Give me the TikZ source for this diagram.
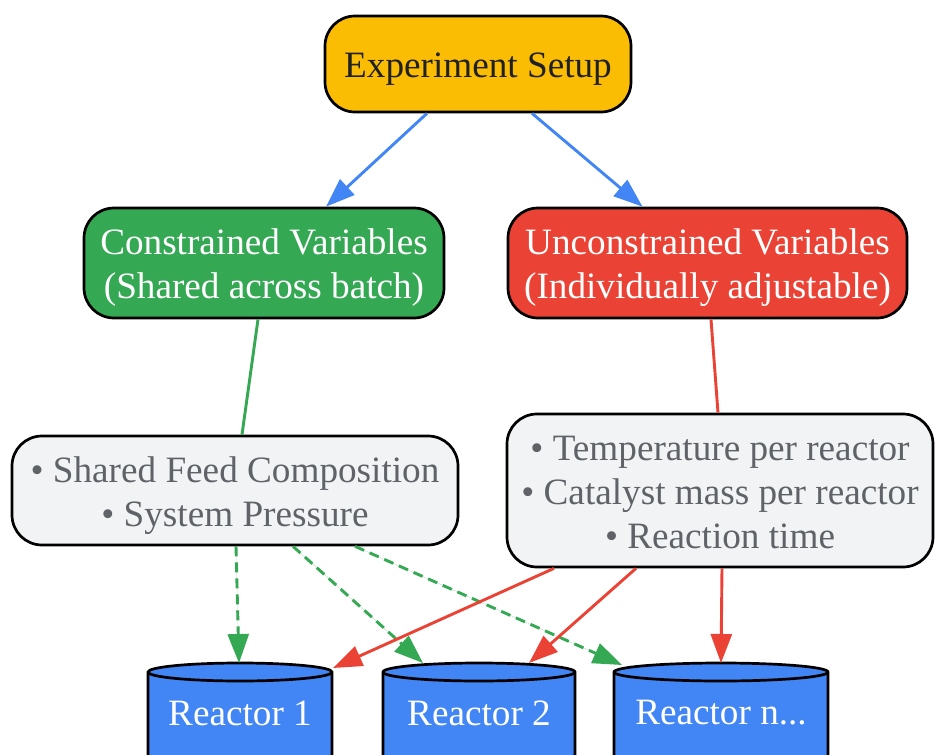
\documentclass[tikz,border=0pt]{standalone}
\usepackage{fontspec}
\setmainfont{Liberation Serif}
\usetikzlibrary{arrows.meta}
\definecolor{gyellow}{HTML}{FBBC04}
\definecolor{ggreen}{HTML}{34A853}
\definecolor{gred}{HTML}{EA4335}
\definecolor{gblue}{HTML}{4285F4}
\definecolor{ggray}{HTML}{F1F3F4}
\definecolor{gtext}{HTML}{5F6368}
\definecolor{gdark}{HTML}{202124}
\begin{document}
\begin{tikzpicture}[x=1pt,y=-1pt,
  box/.style={draw=black, line width=2.7pt, rounded corners=30pt, inner sep=0pt},
  txt/.style={align=center, font=\fontsize{37.2}{44}\selectfont, inner sep=0pt},
  rtext/.style={text=white, font=\fontsize{37.2}{44}\selectfont, inner sep=0pt},
  cyl/.style={fill=gblue, draw=black, line width=2.7pt},
  tip/.style={-{Triangle[length=29pt,width=21pt]}},
  bluee/.style={tip, draw=gblue, fill=gblue, line width=2.9pt},
  greene/.style={draw=ggreen, line width=2.9pt},
  grdash/.style={tip, draw=ggreen, fill=ggreen, line width=2.9pt, dash pattern=on 10pt off 6pt},
  rede/.style={draw=gred, line width=2.9pt},
  redarr/.style={tip, draw=gred, fill=gred, line width=2.9pt}
]
\useasboundingbox (0,0) rectangle (935,755);

% nodes
\node[box, fill=gyellow, minimum width=306pt, minimum height=96pt,
  label={[txt, text=gdark, yshift=-5pt]center:Experiment Setup}] (setup) at (478,64) {};
\node[box, fill=ggreen, minimum width=360pt, minimum height=110pt,
  label={[txt, text=white, yshift=-5pt]center:{Constrained Variables\\(Shared across batch)}}] (cons) at (264,263) {};
\node[box, fill=gred, minimum width=399pt, minimum height=110pt,
  label={[txt, text=white, yshift=-5pt]center:{Unconstrained Variables\\(Individually adjustable)}}] (uncons) at (707.5,263) {};
\node[box, fill=ggray, minimum width=446pt, minimum height=109pt,
  label={[txt, text=gtext, yshift=-5pt]center:{• Shared Feed Composition\\• System Pressure}}] (shared) at (235,490.5) {};
\node[box, fill=ggray, minimum width=426pt, minimum height=153pt,
  label={[txt, text=gtext, yshift=-2pt]center:{• Temperature per reactor\\• Catalyst mass per reactor\\• Reaction time}}] (temp) at (720,490.5) {};

% cylinders
\foreach \c/\a in {240/92, 479/96, 721/107} {
  \filldraw[cyl] (\c-\a,672) -- (\c-\a,764) arc[start angle=180,end angle=0,x radius=\a,y radius=9]
    -- (\c+\a,672) arc[start angle=0,end angle=-180,x radius=\a,y radius=9] -- cycle;
  \draw[line width=2.7pt] (\c-\a,672) arc[start angle=180,end angle=0,x radius=\a,y radius=9];
}
\node[rtext] (r1) at (240,713) {Reactor 1};
\node[rtext] (r2) at (479,713) {Reactor 2};
\node[rtext] (rn) at (721,713) {Reactor n...};
\coordinate (r1g) at (239,663);
\coordinate (r1r) at (333,668);
\coordinate (r2g) at (423,663);
\coordinate (r2r) at (529,663);
\coordinate (rng) at (622,665);
\coordinate (rnr) at (721,663);

% edges
\draw[bluee] ([xshift=-51pt]setup.south) -- ([xshift=62pt]cons.north);
\draw[bluee] ([xshift=54pt]setup.south) -- ([xshift=-65pt]uncons.north);
\draw[greene] ([xshift=-6pt]cons.south) -- ([xshift=7pt]shared.north);
\draw[rede] ([xshift=3.5pt]uncons.south) -- ([xshift=-2pt]temp.north);
\draw[grdash] ([xshift=1pt]shared.south) -- (r1g);
\draw[grdash] ([xshift=58pt]shared.south) -- (r2g);
\draw[grdash] ([xshift=120pt]shared.south) -- (rng);
\draw[redarr] ([xshift=-166pt]temp.south) -- (r1r);
\draw[redarr] ([xshift=-84pt]temp.south) -- (r2r);
\draw[redarr] ([xshift=2pt]temp.south) -- (rnr);
\end{tikzpicture}
\end{document}
